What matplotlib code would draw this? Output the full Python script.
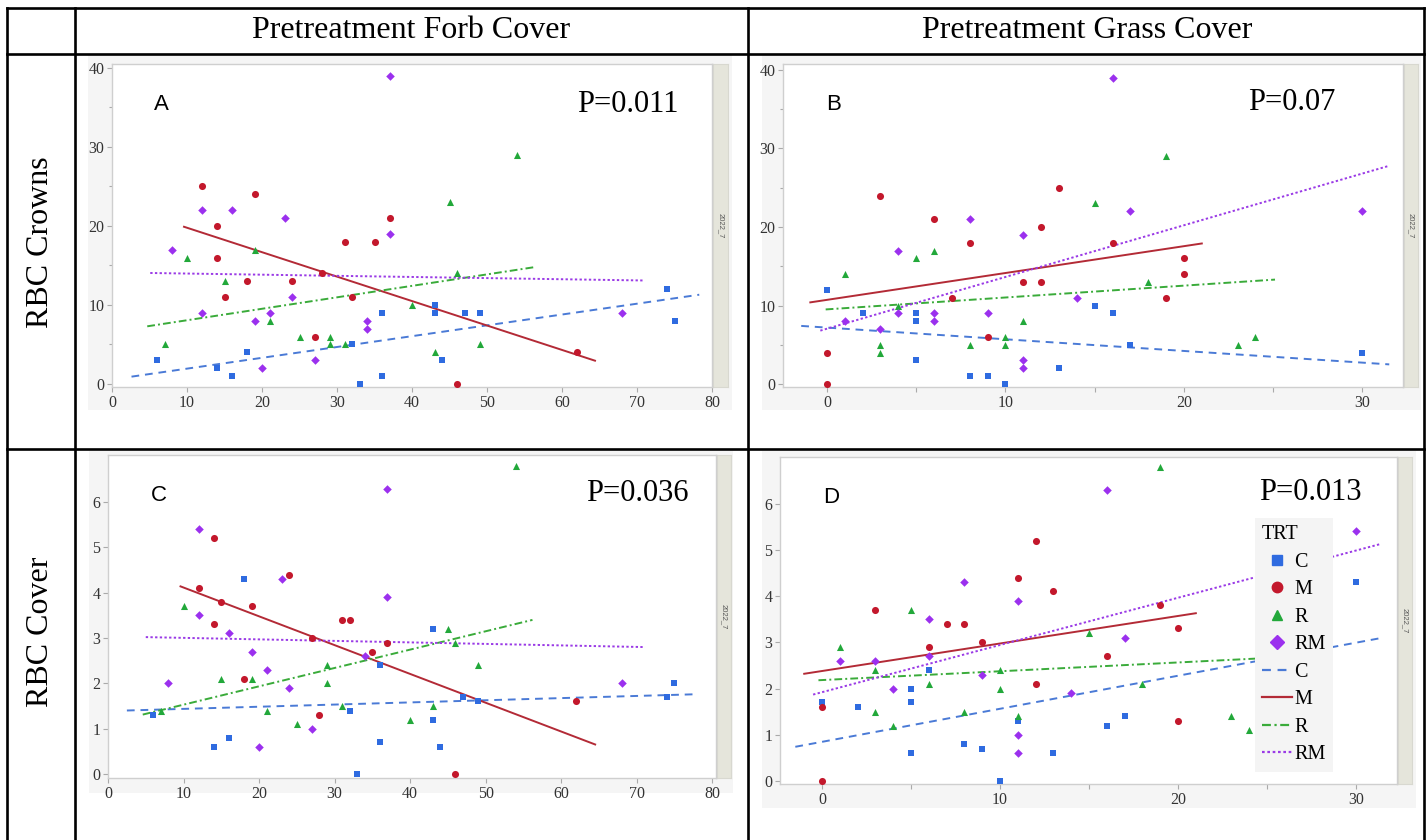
import matplotlib
matplotlib.use("Agg")
import matplotlib.pyplot as plt
from matplotlib.lines import Line2D

plt.rcParams["font.family"] = "Liberation Serif"

# treatments and their styles
trts = ["C", "M", "R", "RM"]
pt_colors = {"C": "#2f6be0", "M": "#c3182c", "R": "#22a83a", "RM": "#9b30ee"}
ln_colors = {"C": "#4a7ad6", "M": "#b32a36", "R": "#3aab3a", "RM": "#9a3ae6"}
markers = {"C": "s", "M": "o", "R": "^", "RM": "D"}
msizes = {"C": 22, "M": 26, "R": 26, "RM": 19}

# A: forb cover vs crowns
A_C_x = [6, 14, 16, 18, 32, 33, 36, 36, 43, 43, 47, 49, 44, 74, 75]
A_C_y = [3, 2, 1, 4, 5, 0, 9, 1, 10, 9, 9, 9, 3, 12, 8]
A_M_x = [12, 19, 14, 14, 18, 24, 15, 28, 27, 31, 35, 32, 37, 62, 46]
A_M_y = [25, 24, 20, 16, 13, 13, 11, 14, 6, 18, 18, 11, 21, 4, 0]
A_R_x = [10, 7, 15, 19, 21, 25, 29, 29, 31, 40, 54, 45, 46, 43, 49]
A_R_y = [16, 5, 13, 17, 8, 6, 6, 5, 5, 10, 29, 23, 14, 4, 5]
A_RM_x = [37, 12, 16, 8, 23, 24, 12, 21, 19, 34, 34, 27, 20, 37, 68]
A_RM_y = [39, 22, 22, 17, 21, 11, 9, 9, 8, 8, 7, 3, 2, 19, 9]

# B: grass cover vs crowns
B_C_x = [0, 2, 5, 5, 5, 8, 9, 10, 13, 15, 16, 17, 30]
B_C_y = [12, 9, 9, 8, 3, 1, 1, 0, 2, 10, 9, 5, 4]
B_M_x = [3, 6, 8, 7, 9, 11, 12, 12, 13, 0, 0, 16, 20, 20, 19]
B_M_y = [24, 21, 18, 11, 6, 13, 13, 20, 25, 4, 0, 18, 16, 14, 11]
B_R_x = [1, 5, 6, 4, 3, 3, 8, 10, 10, 11, 15, 19, 18, 23, 24]
B_R_y = [14, 16, 17, 10, 5, 4, 5, 6, 5, 8, 23, 29, 13, 5, 6]
B_RM_x = [1, 3, 4, 4, 6, 6, 8, 9, 11, 11, 11, 14, 16, 17, 30]
B_RM_y = [8, 7, 17, 9, 9, 8, 21, 9, 19, 3, 2, 11, 39, 22, 22]

# C: forb cover vs RBC cover
C_C_x = [6, 14, 16, 18, 32, 33, 36, 36, 43, 43, 44, 47, 49, 74, 75]
C_C_y = [1.3, 0.6, 0.8, 4.3, 1.4, 0, 2.4, 0.7, 3.2, 1.2, 0.6, 1.7, 1.6, 1.7, 2.0]
C_M_x = [14, 24, 12, 15, 19, 14, 31, 32, 27, 37, 35, 18, 28, 62, 46]
C_M_y = [5.2, 4.4, 4.1, 3.8, 3.7, 3.3, 3.4, 3.4, 3.0, 2.9, 2.7, 2.1, 1.3, 1.6, 0]
C_R_x = [10, 15, 19, 29, 29, 7, 21, 25, 31, 40, 54, 45, 46, 49, 43]
C_R_y = [3.7, 2.1, 2.1, 2.4, 2.0, 1.4, 1.4, 1.1, 1.5, 1.2, 6.8, 3.2, 2.9, 2.4, 1.5]
C_RM_x = [37, 12, 23, 37, 12, 16, 19, 21, 8, 24, 34, 27, 20, 68]
C_RM_y = [6.3, 5.4, 4.3, 3.9, 3.5, 3.1, 2.7, 2.3, 2.0, 1.9, 2.6, 1.0, 0.6, 2.0]

# D: grass cover vs RBC cover
D_C_x = [0, 2, 5, 5, 5, 6, 8, 9, 10, 11, 13, 16, 17, 30]
D_C_y = [1.7, 1.6, 2.0, 1.7, 0.6, 2.4, 0.8, 0.7, 0, 1.3, 0.6, 1.2, 1.4, 4.3]
D_M_x = [0, 0, 3, 6, 7, 8, 9, 11, 12, 12, 13, 19, 20, 16, 20]
D_M_y = [0, 1.6, 3.7, 2.9, 3.4, 3.4, 3.0, 4.4, 5.2, 2.1, 4.1, 3.8, 3.3, 2.7, 1.3]
D_R_x = [1, 3, 3, 4, 5, 6, 8, 10, 10, 11, 15, 19, 18, 23, 24]
D_R_y = [2.9, 2.4, 1.5, 1.2, 3.7, 2.1, 1.5, 2.4, 2.0, 1.4, 3.2, 6.8, 2.1, 1.4, 1.1]
D_RM_x = [1, 3, 4, 6, 6, 8, 9, 11, 11, 11, 14, 16, 17, 30]
D_RM_y = [2.6, 2.6, 2.0, 3.5, 2.7, 4.3, 2.3, 3.9, 1.0, 0.6, 1.9, 6.3, 3.1, 5.4]

# fitted lines: start/end x and y per treatment
A_fit_x = [[2.6, 78.3], [9.6, 64.4], [4.7, 56.4], [5.1, 71.0]]
A_fit_y = [[0.93, 11.3], [19.9, 2.95], [7.3, 14.8], [14.05, 13.1]]
B_fit_x = [[-1.44, 31.5], [-0.93, 21.0], [-0.07, 25.1], [-0.37, 31.5]]
B_fit_y = [[7.4, 2.5], [10.4, 17.9], [9.5, 13.3], [6.8, 27.8]]
C_fit_x = [[2.5, 78.1], [9.6, 64.5], [4.6, 56.2], [5.0, 71.1]]
C_fit_y = [[1.4, 1.76], [4.14, 0.65], [1.31, 3.4], [3.02, 2.8]]
D_fit_x = [[-1.5, 31.5], [-1.0, 21.0], [-0.2, 25.0], [-0.5, 31.4]]
D_fit_y = [[0.74, 3.1], [2.32, 3.63], [2.18, 2.66], [1.87, 5.13]]

p_values = ["P=0.011", "P=0.07", "P=0.036", "P=0.013"]
col_titles = ["Pretreatment Forb Cover", "Pretreatment Grass Cover"]
row_titles = ["RBC Crowns", "RBC Cover"]

line_dash = {"C": (4, 3), "M": None, "R": (4, 1.6, 1, 1.6), "RM": (1.2, 1.2)}

W, H = 1427, 840
fig = plt.figure(figsize=(W / 100, H / 100), dpi=100)
fig.patch.set_facecolor("white")


def px_rect(x0, y0, x1, y1):
    # pixel box (top-left origin) -> figure fraction rect
    return [x0 / W, 1 - y1 / H, (x1 - x0) / W, (y1 - y0) / H]


def make_panel(letter, frame, box, strip, xlim, ylim, xt, xl, yt, yminor,
               pts, fits_x, fits_y, pval, pval_pos):
    bg = fig.add_axes(px_rect(*frame))
    bg.set_facecolor("#f5f5f5")
    bg.set_xticks([]); bg.set_yticks([])
    for s in bg.spines.values():
        s.set_visible(False)

    st = fig.add_axes(px_rect(strip[0], box[1], strip[1], box[3]))
    st.set_facecolor("#e5e5db")
    st.set_xticks([]); st.set_yticks([])
    for s in st.spines.values():
        s.set_color("#d8d8d0")
    st.text(0.5, 0.5, "2022_7", rotation=270, ha="center", va="center",
            fontsize=5.5, color="#555555", family="Liberation Sans",
            transform=st.transAxes)

    ax = fig.add_axes(px_rect(*box))
    ax.set_facecolor("white")
    for t in trts:
        x, y = pts[t]
        ax.scatter(x, y, marker=markers[t], s=msizes[t], color=pt_colors[t],
                   linewidths=0, zorder=3)
    for i, t in enumerate(trts):
        ln, = ax.plot(fits_x[i], fits_y[i], color=ln_colors[t], lw=1.4, zorder=2)
        if line_dash[t]:
            ln.set_dashes(line_dash[t])
    ax.set_xlim(*xlim)
    ax.set_ylim(*ylim)
    ax.set_xticks(xt)
    ax.set_xticklabels([str(v) if v in xl else "" for v in xt])
    ax.set_yticks(yt)
    if yminor:
        ax.set_yticks(yminor, minor=True)
    for s in ax.spines.values():
        s.set_color("#cfcfcf")
        s.set_linewidth(1.0)
    ax.tick_params(which="both", direction="out", length=3.5, width=0.8,
                   color="#aaaaaa", labelsize=11.5, labelcolor="#333333", pad=2)
    ax.tick_params(which="minor", length=2.5)
    ax.text(0.07, 0.875, letter, transform=ax.transAxes, fontsize=16,
            family="Liberation Sans", ha="left", va="center")
    ax.text(pval_pos[0], pval_pos[1], pval, transform=ax.transAxes,
            fontsize=22, ha="center", va="center")
    return ax


make_panel("A", (88, 55, 732, 410), (112, 64, 712, 387), (713, 728),
           (0, 80), (-0.38, 40.5), list(range(0, 81, 10)), list(range(0, 81, 10)),
           list(range(0, 41, 10)), [5, 15, 25, 35],
           {"C": (A_C_x, A_C_y), "M": (A_M_x, A_M_y), "R": (A_R_x, A_R_y), "RM": (A_RM_x, A_RM_y)},
           A_fit_x, A_fit_y, p_values[0], (0.86, 0.875))

make_panel("B", (762, 55, 1421, 410), (783, 64, 1403, 387), (1404, 1418),
           (-2.46, 32.27), (-0.38, 40.76), list(range(0, 31, 5)), [0, 10, 20, 30],
           list(range(0, 41, 10)), [5, 15, 25, 35],
           {"C": (B_C_x, B_C_y), "M": (B_M_x, B_M_y), "R": (B_R_x, B_R_y), "RM": (B_RM_x, B_RM_y)},
           B_fit_x, B_fit_y, p_values[1], (0.82, 0.88))

make_panel("C", (89, 451, 733, 793), (108, 455, 716, 778), (717, 731),
           (0, 80.5), (-0.09, 7.04), list(range(0, 81, 10)), list(range(0, 81, 10)),
           list(range(0, 7)), None,
           {"C": (C_C_x, C_C_y), "M": (C_M_x, C_M_y), "R": (C_R_x, C_R_y), "RM": (C_RM_x, C_RM_y)},
           C_fit_x, C_fit_y, p_values[2], (0.87, 0.88))

axD = make_panel("D", (762, 451, 1416, 808), (780, 457, 1397, 784), (1398, 1412),
                 (-2.36, 32.3), (-0.065, 7.01), list(range(0, 31, 5)), [0, 10, 20, 30],
                 list(range(0, 7)), None,
                 {"C": (D_C_x, D_C_y), "M": (D_M_x, D_M_y), "R": (D_R_x, D_R_y), "RM": (D_RM_x, D_RM_y)},
                 D_fit_x, D_fit_y, p_values[3], (0.86, 0.89))

# legend for TRT
handles = [Line2D([], [], ls="", marker=markers[t], color=pt_colors[t],
                  markersize=7.5 if t != "RM" else 7) for t in trts]
for t in trts:
    h = Line2D([], [], color=ln_colors[t], lw=1.6)
    if line_dash[t]:
        h.set_dashes(line_dash[t])
    handles.append(h)
leg = axD.legend(handles, trts + trts, title="TRT", loc="upper left",
                 bbox_to_anchor=(1255 / W, 1 - 518 / H), bbox_transform=fig.transFigure,
                 frameon=True, fancybox=False, handlelength=1.5, handletextpad=0.1,
                 labelspacing=0.42, borderpad=0.35, borderaxespad=0, alignment="left",
                 prop={"size": 14.5}, title_fontproperties={"size": 14.5})
leg.get_frame().set_facecolor("#f4f4f4")
leg.get_frame().set_edgecolor("none")
leg.get_frame().set_alpha(1)
leg.set_zorder(5)

# table grid and headings
tab = fig.add_axes([0, 0, 1, 1], zorder=10)
tab.set_xlim(0, W)
tab.set_ylim(H, 0)
tab.axis("off")
lw = 1.9
for x in [7, 75, 748, 1424]:
    tab.plot([x, x], [8, H], color="black", lw=lw, solid_capstyle="projecting")
for y in [8, 54, 449]:
    tab.plot([7, 1424], [y, y], color="black", lw=lw, solid_capstyle="projecting")

tab.text(411, 30, col_titles[0], ha="center", va="center", fontsize=23)
tab.text(1087, 30, col_titles[1], ha="center", va="center", fontsize=23)
tab.text(41, 242, row_titles[0], ha="center", va="center", rotation=90, fontsize=23)
tab.text(41, 632, row_titles[1], ha="center", va="center", rotation=90, fontsize=23)

fig.savefig("out.png", dpi=100)
